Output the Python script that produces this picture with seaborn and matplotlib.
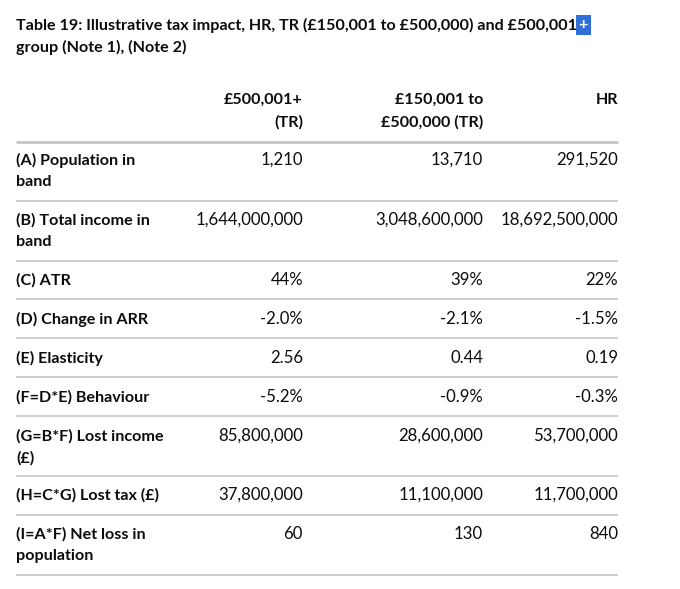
import matplotlib
matplotlib.use("Agg")
import matplotlib.pyplot as plt
import seaborn as sns

# table content
title_lines = ["Table 19: Illustrative tax impact, HR, TR (£150,001 to £500,000) and £500,001",
               "group (Note 1), (Note 2)"]
columns = [["£500,001+", "(TR)"], ["£150,001 to", "£500,000 (TR)"], ["HR"]]
row_labels = [["(A) Population in", "band"],
              ["(B) Total income in", "band"],
              ["(C) ATR"],
              ["(D) Change in ARR"],
              ["(E) Elasticity"],
              ["(F=D*E) Behaviour"],
              ["(G=B*F) Lost income", "(£)"],
              ["(H=C*G) Lost tax (£)"],
              ["(I=A*F) Net loss in", "population"]]
col_500k_plus = ["1,210", "1,644,000,000", "44%", "-2.0%", "2.56", "-5.2%", "85,800,000", "37,800,000", "60"]
col_150k_500k = ["13,710", "3,048,600,000", "39%", "-2.1%", "0.44", "-0.9%", "28,600,000", "11,100,000", "130"]
col_hr = ["291,520", "18,692,500,000", "22%", "-1.5%", "0.19", "-0.3%", "53,700,000", "11,700,000", "840"]

sns.set_style("white")
plt.rcParams['font.family'] = ['Lato', 'DejaVu Sans']

W, H = 680, 589
fig = plt.figure(figsize=(W / 100, H / 100), dpi=100)
ax = fig.add_axes([0, 0, 1, 1])
ax.set_xlim(0, W)
ax.set_ylim(H, 0)
ax.axis("off")
renderer = fig.canvas.get_renderer()


def fit_size(s, target, weight):
    # pick the font size that gives the text the width seen in the reference
    probe = ax.text(0, 0, s, fontsize=10, fontweight=weight)
    w = probe.get_window_extent(renderer).width
    probe.remove()
    return 10 * target / w


ink = "#0b0c0c"
rule = "#c4c6c8"
left = 16
col_right = [303, 483, 618]
lh = 22
fs_title = fit_size(title_lines[0], 562, "bold")
fs_lab = fit_size("(B) Total income in", 134, "bold")
fs_val = fit_size("18,692,500,000", 118, "normal")

# title
t = ax.text(left, 25, title_lines[0], fontsize=fs_title, fontweight="bold", color=ink, va="center")
ax.text(left, 47, title_lines[1], fontsize=fs_title, fontweight="bold", color=ink, va="center")
bb = t.get_window_extent(renderer)
x_end = ax.transData.inverted().transform((bb.x1, bb.y0))[0]
ax.text(x_end + 1.5, 25, "+", fontsize=fs_title, fontweight="bold", color="white", va="center",
        bbox=dict(boxstyle="square,pad=0.18", fc="#2f6fd6", ec="none"))

# header
for xr, lines in zip(col_right, columns):
    for i, s in enumerate(lines):
        ax.text(xr, 100 + i * lh, s, fontsize=fs_lab, fontweight="bold", color=ink, ha="right", va="center")
ax.plot([left, 618], [142, 142], color=rule, lw=2, solid_capstyle="butt")

# rows
row_tops = [160, 220, 280, 319, 358, 397, 436, 495, 534]
row_lines = [201, 261, 299, 338, 377, 416, 476, 515, 575]
for k, labels in enumerate(row_labels):
    y0 = row_tops[k]
    for i, s in enumerate(labels):
        ax.text(left, y0 + i * lh, s, fontsize=fs_lab, fontweight="bold", color=ink, va="center")
    for xr, col in zip(col_right, [col_500k_plus, col_150k_500k, col_hr]):
        ax.text(xr, y0, col[k], fontsize=fs_val, color=ink, ha="right", va="center")
    ax.plot([left, 618], [row_lines[k], row_lines[k]], color=rule, lw=1.2, solid_capstyle="butt")

fig.savefig("out.png", dpi=100, facecolor="white")
